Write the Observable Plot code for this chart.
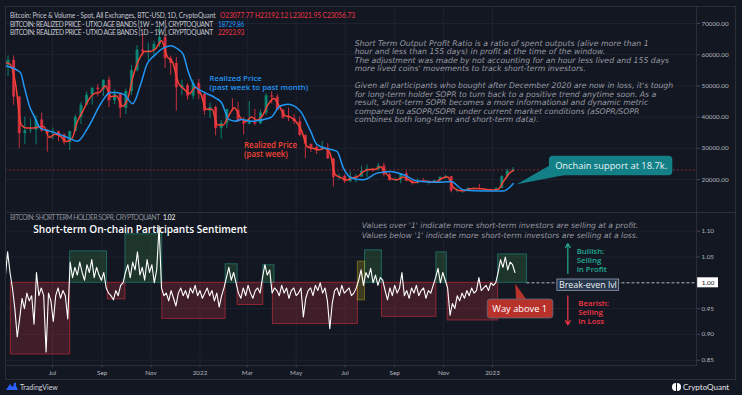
<!DOCTYPE html>
<html><head><meta charset="utf-8">
<script src="https://cdn.jsdelivr.net/npm/d3@7"></script>
<script src="https://cdn.jsdelivr.net/npm/@observablehq/plot@0.6"></script>
<style>
html,body{margin:0;padding:0;background:#131722;}
#root{position:relative;width:742px;height:395px;background:#131722;overflow:hidden;font-family:Lato,"Open Sans",sans-serif;}
#panel{position:absolute;left:5px;top:6px;width:731px;height:374px;border:1px solid #2a2e39;box-sizing:border-box;}
#sep{position:absolute;left:5px;top:212px;width:731px;height:1px;background:#2a2e39;}
.pl{position:absolute;left:0;}
.leg{position:absolute;white-space:nowrap;line-height:1;font-family:Lato,"Open Sans",sans-serif;}
.foot{position:absolute;top:382px;font-size:7px;color:#d1d4dc;white-space:nowrap;display:flex;align-items:center;gap:2px;}
</style></head>
<body>
<div id="root">
  <div id="panel"></div>
  <div class="pl" id="p1" style="top:0"></div>
  <div class="pl" id="p2" style="top:212px"></div>
  <div id="sep"></div>
  <div id="legends"></div>
  <div class="foot" style="left:6px">
    <svg width="12" height="9" viewBox="0 0 12 9"><path d="M0,8 L4,2 L6.5,5 L9,1.5 L12,8 Z" fill="#2962ff"/><circle cx="9" cy="2" r="1.3" fill="#2962ff"/></svg>
    <span>TradingView</span>
  </div>
  <div class="foot" style="left:672px;font-size:8px;color:#e8e9ec">
    <svg width="9" height="8" viewBox="0 0 9 8"><path d="M4,0 A4,4 0 0 0 4,8 Z" fill="#fff"/><path d="M5,0 A4,4 0 0 1 5,8 Z" fill="#fff"/></svg>
    <span>CryptoQuant</span>
  </div>
</div>
<script>
const DAY = 864e5;
// ---- Price candles (weekly, weeks starting Monday from candleWeekStart)
const candleWeekStart = "2021-05-03";
const candleOpen  = [56600,58200,46400,34700,35600,35800,39100,35500,34700,35300,34250,31800,35400,39900,43800,47000,49300,48800,51800,45200,47300,42800,48200,54900,61500,60900,61300,63300,65500,58700,57200,49400,50100,46700,50800,47300,41900,43100,36300,37900,42400,42200,38400,37700,38400,37800,41300,46800,46400,42200,39700,39500,38500,34100,31300,30300,29400,29900,26600,20600,21000,19300,20800,20800,22600,23300,23200,24300,21500,19600,19800,21800,19400,18800,19300,19100,19100,19600,20600,20900,16300,16300,16500,17100,17100,16800,16800,16600,17100,20900,22700];
const candleHigh  = [59500,59600,46600,40000,39400,40500,41300,36000,36500,35500,34700,35400,40600,44700,48100,49300,50500,51900,52900,48800,47500,49000,56500,62900,67000,63700,64300,69000,66300,59500,59100,51900,50700,51900,52100,47500,44400,43500,38900,42500,45800,44700,39800,45000,42500,42300,47500,48200,47200,42400,42900,40800,40000,34300,31300,30600,32200,31500,26800,21700,21500,22400,21600,24200,24600,23600,25200,25200,22000,20500,21800,22700,19700,20300,20400,19500,19700,21000,21400,21000,17200,16800,17400,17400,18400,17000,16900,17400,21200,23300,23800];
const candleLow   = [53000,43800,30000,31200,34800,31100,35200,28800,32700,32100,31000,29300,35200,37600,43600,43900,46400,46600,43000,44000,39600,40800,46900,54500,59600,58100,59400,62300,55600,53300,42000,46800,45500,45600,45700,40600,39600,34000,32900,36300,41700,39600,34300,37500,37200,37600,40500,44200,42100,39200,38600,37600,33700,26700,28700,28000,29300,26500,17600,19700,18700,19000,18900,20800,20700,22400,22700,20800,19500,19500,18600,19300,18200,18500,19000,18200,18900,19200,20100,15700,15800,15500,16000,16700,16600,16400,16400,16500,17100,20400,22300];
const candleClose = [58200,46400,34700,35600,35800,39100,35500,34700,35300,34250,31800,35400,39900,43800,47000,49300,48800,51800,45200,47300,42800,48200,54900,61500,60900,61300,63300,65500,58700,57200,49400,50100,46700,50800,47300,41900,43100,36300,37900,42400,42200,38400,37700,38400,37800,41300,46800,46400,42200,39700,39500,38500,34100,31300,30300,29400,29900,26600,20600,21000,19300,20800,20800,22600,23300,23200,24300,21500,19600,19800,21800,19400,18800,19300,19100,19100,19600,20600,20900,16300,16300,16500,17100,17100,16800,16800,16600,17100,20900,22700,23080];
const lastClose = 23077;
// ---- Realized price 1D~1W (red): first at start, then weekly (Sundays)
const redValues = [57500,57000,50500,37500,36500,36500,36800,37000,33500,34500,33800,32200,33000,38500,42000,45500,47500,48000,50000,46500,46800,43500,46000,53500,58500,61000,61000,62000,64500,59500,57500,51000,49000,47500,49500,47500,42500,42500,37500,37500,40500,43000,40000,38500,40000,39000,40500,44000,46000,43500,40500,40000,38500,35500,30500,30000,29500,30000,28500,21500,20600,19800,20500,21000,22500,23200,23200,24100,22000,20200,19900,20800,20000,19000,19400,19500,19200,19300,20400,20800,17500,16500,16400,17000,17100,17000,16800,16600,16900,19500,22000,22924];
const lastDataDate = "2023-01-27";
// ---- Realized price 1W~1M (blue)
const blueDates = ["2021-05-03","2021-05-22","2021-05-27","2021-06-03","2021-06-07","2021-06-16","2021-06-28","2021-07-19","2021-08-01","2021-08-14","2021-08-31","2021-09-11","2021-09-18","2021-09-28","2021-10-09","2021-10-19","2021-10-27","2021-11-05","2021-11-18","2021-11-26","2021-12-04","2021-12-11","2021-12-17","2021-12-25","2022-01-07","2022-01-20","2022-01-28","2022-02-06","2022-02-14","2022-02-22","2022-03-05","2022-03-30","2022-04-11","2022-04-21","2022-05-06","2022-05-19","2022-05-27","2022-06-13","2022-06-21","2022-06-29","2022-07-10","2022-07-24","2022-08-10","2022-08-27","2022-09-12","2022-09-29","2022-10-24","2022-11-10","2022-11-26","2022-12-21","2023-01-15","2023-01-27"];
const blueValues = [56450,54300,49450,43000,40870,36500,35500,33550,32250,36500,44600,47850,47850,47300,44300,50550,57000,59700,62350,62900,61850,60200,54850,50000,47850,46200,44600,39250,38700,39250,38700,39800,43550,44100,41950,35500,31200,29600,29000,23650,20400,19900,22050,22600,21500,19550,19100,19350,16650,16350,16350,18730];
// ---- Short-term holder SOPR (every 3 days from soprStart)
const soprStart = "2021-05-03";
const soprValues = [
1.01,1.06,1.02,0.99,0.95, 0.895,0.93,0.97,0.95, 0.98,0.965,0.975, 0.92, 1.02,0.975,0.99, 0.975,0.866,0.98, 0.965,0.925,0.975,
0.99,0.97,0.985,0.975, 0.93, 1.04,
1.01,1.03,1.015,1.04,1.02,1.005,1.035,1.02,1.045,1.01,1.03,1.015,1.005,1.02,
0.99,0.98,0.975,0.967,0.985,0.975,0.995,1.0,
1.02,1.035,1.01,1.04,1.025,1.06,1.015,1.03,1.005,1.045,1.02,1.035,1.0,1.025,
1.11,
0.99,0.975,0.98,0.965,0.985,0.97,0.955,0.98,0.99,0.975,0.985,0.97,0.99,0.98,0.995,0.975,0.985,0.97,0.98,0.99,0.975,0.985,0.965,0.98,0.953,0.975,0.99,
1.01,1.03,1.005,1.02,1.0,
0.98,0.97,0.99,0.975,0.995,0.98,0.97,0.985,0.99,0.98,
1.01,1.035,1.015,1.025,
0.98,0.99,0.985,0.975,0.995,0.98,0.99,0.97,0.985,0.99,0.975,0.98,0.99,
0.934,
0.97,0.985,0.99,0.975,0.995,0.985,1.0,0.98,0.99,0.965,
0.911,
0.96,0.985,0.99,0.975,0.995,0.98,0.985,0.99,0.975,0.98,0.99,
1.005,1.025,0.995,1.02,
1.01,1.028,1.0,1.015,0.995,1.01,1.005,
0.985,0.967,0.99,0.975,0.995,0.98,0.99,1.02,0.975,0.985,0.97,0.99,0.98,0.995,0.975,0.985,0.99,0.97,0.985,0.98,0.995,
1.01,1.028,1.0,1.02,1.005,
0.99,0.937,0.96,0.95,0.975,0.965,0.98,0.97,0.985,0.975,0.99,0.98,0.985,1.01,0.985,0.99,0.995,0.985,1.0,0.995,1.0,
1.02,1.045,1.03,1.05,1.025,1.04,1.035,1.02];
// ---- Shaded sentiment zones
const lossStart = ["2021-05-10","2021-09-08","2021-11-15","2022-02-17","2022-04-02","2022-08-16","2022-11-06"];
const lossEnd   = ["2021-07-23","2021-09-30","2022-02-02","2022-03-21","2022-07-17","2022-10-23","2023-01-08"];
const lossLow   = [0.861,0.968,0.93,0.957,0.92,0.934,0.927];
const profitStart = ["2021-07-23","2021-09-30","2022-02-02","2022-03-21","2022-07-26","2022-10-23","2023-01-08"];
const profitEnd   = ["2021-09-07","2021-11-15","2022-02-17","2022-04-04","2022-08-16","2022-11-05","2023-02-13"];
const profitHigh  = [1.061,1.094,1.036,1.034,1.063,1.059,1.055];
const neutralStart = ["2022-07-17"], neutralEnd = ["2022-07-26"], neutralLow = [0.966], neutralHigh = [1.041];
// ---- Axis ticks
const priceTicks = [20000,30000,40000,50000,60000,70000];
const soprTicks = [0.85,0.90,0.95,1.05,1.10];
const monthTicks = ["2021-07-01","2021-09-01","2021-11-01","2022-01-01","2022-03-01","2022-05-01","2022-07-01","2022-09-01","2022-11-01","2023-01-01"];

// ---- text fitting helpers
const ctx = document.createElement("canvas").getContext("2d");
const measure = (text, style, weight, size, family) => { ctx.font = `${style} ${weight} ${size}px ${family}`; return ctx.measureText(text).width; };
const fit = (text, style, weight, family, target) => 100*target/measure(text, style, weight, 100, family);
// multi-line text: font size and line height (em) that keep lines from colliding
const ml = (size, spacing) => { const s = size*0.95; return {fontSize:s, lineHeight:Math.max(spacing, 1.15*s)/s}; };
const OS = "'Open Sans', sans-serif", LT = "Lato, 'Open Sans', sans-serif", DJ = "'DejaVu Sans', sans-serif";

// ---- HTML legends (fixed size, letter-spacing fitted to the reference widths)
const legendItems = [
  {t:"Bitcoin: Price & Volume - Spot, All Exchanges, BTC-USD, 1D, CryptoQuant", x:10, y:11.5, w:206, c:"#c3c6ce"},
  {t:"O23077.77 H23192.12 L23021.95 C23056.73", x:220, y:11.5, w:135, c:"#f23645"},
  {t:"BITCOIN: REALIZED PRICE - UTXO AGE BANDS [1W ~ 1M], CRYPTOQUANT", x:10, y:20.5, w:203, c:"#c3c6ce"},
  {t:"18729.86", x:218, y:20.5, w:26, c:"#2196f3"},
  {t:"BITCOIN: REALIZED PRICE - UTXO AGE BANDS [1D ~ 1W], CRYPTOQUANT", x:10, y:29, w:203, c:"#c3c6ce"},
  {t:"22923.93", x:218, y:29, w:26, c:"#f23645"},
  {t:"BITCOIN: SHORT TERM HOLDER SOPR, CRYPTOQUANT", x:10, y:213.8, w:150, c:"#8d909a"},
  {t:"1.02", x:163, y:213.8, w:12, c:"#ffffff"}
];
const LEG_FS = 6.6;
const legRoot = document.getElementById("legends");
for (const it of legendItems) {
  const el = document.createElement("div");
  el.className = "leg"; el.textContent = it.t;
  const ls = (it.w - measure(it.t, "normal", 400, LEG_FS, LT)) / it.t.length;
  el.style.cssText = `left:${it.x}px;top:${it.y}px;font-size:${LEG_FS}px;letter-spacing:${ls.toFixed(3)}px;color:${it.c}`;
  legRoot.append(el);
}

const D = s => new Date(s + "T00:00:00Z");
const t0 = +D(candleWeekStart);
const candles = candleOpen.map((o,i)=>({date:new Date(t0+(7*i+3.5)*DAY), open:o, high:candleHigh[i], low:candleLow[i], close:candleClose[i]}));
const upC = candles.filter(c=>c.close>=c.open), dnC = candles.filter(c=>c.close<c.open);
const red = redValues.map((v,i)=>({date: i===0 ? new Date(t0) : new Date(Math.min(t0+(7*(i-1)+6)*DAY, +D(lastDataDate))), value:v}));
const blue = blueDates.map((s,i)=>({date:D(s), value:blueValues[i]}));
const s0 = +D(soprStart);
const sopr = soprValues.map((v,i)=>({date:new Date(s0+3*i*DAY), value:v}));
const loss = lossStart.map((s,i)=>({a:D(s), b:D(lossEnd[i]), lo:lossLow[i], hi:1}));
const prof = profitStart.map((s,i)=>({a:D(s), b:D(profitEnd[i]), lo:1, hi:profitHigh[i]}));
const neut = neutralStart.map((s,i)=>({a:D(s), b:D(neutralEnd[i]), lo:neutralLow[i], hi:neutralHigh[i]}));
const mTicks = monthTicks.map(D);
const fmtM = d => d.getUTCMonth()===0 ? String(d.getUTCFullYear()) : d3.utcFormat("%b")(d);

const X = {type:"utc", domain:[D("2021-07-01"), D("2023-01-01")], range:[52,492], axis:null};
const GRID = "#1e2230";
const AX = "#b2b5be";
const baseStyle = {background:"transparent", color:AX, fontFamily:LT, fontSize:"6.3px", overflow:"visible"};

const noteA = "Short Term Output Profit Ratio is a ratio of spent outputs (alive more than 1\nhour and less than 155 days) in profit at the time of the window.\nThe adjustment was made by not accounting for an hour less lived and 155 days\nmore lived coins' movements to track short-term investors.";
const noteB = "Given all participants who bought after December 2020 are now in loss, it's tough\nfor long-term holder SOPR to turn back to a positive trend anytime soon. As a\nresult, short-term SOPR becomes a more informational and dynamic metric\ncompared to aSOPR/SOPR under current market conditions (aSOPR/SOPR\ncombines both long-term and short-term data).";
const valuesNote = "Values over '1' indicate more short-term investors are selling at a profit.\nValues below '1' indicate more short-term investors are selling at a loss.";
const titleText = "Short-term On-chain Participants Sentiment";

const noteSize = fit(noteA.split("\n")[0], "italic", 400, DJ, 294);
const valSize = fit(valuesNote.split("\n")[0], "italic", 400, DJ, 277);
const titleSize = fit(titleText, "normal", 600, OS, 214);
const rpb = ml(fit("(past week to past month)", "normal", 600, OS, 104), 9);
const rpr = ml(fit("Realized Price", "normal", 600, OS, 56), 8.7);
const onSize = fit("Onchain support at 18.7k.", "normal", 400, OS, 112);
const waySize = fit("Way above 1", "normal", 400, OS, 55);
const beSize = fit("Break-even lvl", "normal", 400, OS, 58);
const bull = ml(fit("Selling", "normal", 600, OS, 26), 8.85);
const bear = ml(fit("Selling", "normal", 600, OS, 26), 8.7);

const p1 = Plot.plot({
  width:742, height:212, marginLeft:5, marginRight:46, marginTop:6, marginBottom:0,
  x:X, y:{domain:[20000,70000], range:[179,23], axis:null},
  style:baseStyle,
  marks:[
    Plot.gridX(mTicks, {stroke:GRID, strokeOpacity:1}),
    Plot.gridY(priceTicks, {stroke:GRID, strokeOpacity:1}),
    Plot.ruleY([lastClose], {stroke:"#f23645", strokeOpacity:0.5, strokeDasharray:"2,2"}),
    Plot.ruleX(upC, {x:"date", y1:"low", y2:"high", stroke:"#089981", strokeWidth:1, strokeOpacity:0.8, clip:true}),
    Plot.ruleX(dnC, {x:"date", y1:"low", y2:"high", stroke:"#f23645", strokeWidth:1, strokeOpacity:0.8, clip:true}),
    Plot.ruleX(upC, {x:"date", y1:"open", y2:"close", stroke:"#089981", strokeWidth:3, strokeOpacity:0.75, clip:true}),
    Plot.ruleX(dnC, {x:"date", y1:"open", y2:"close", stroke:"#f23645", strokeWidth:3, strokeOpacity:0.75, clip:true}),
    Plot.line(red, {x:"date", y:"value", stroke:"#f44336", strokeWidth:1.5, curve:"monotone-x", clip:true}),
    Plot.line(blue, {x:"date", y:"value", stroke:"#2196f3", strokeWidth:1.5, curve:"monotone-x", clip:true}),
    Plot.frame({stroke:"#2a2e39"}),
    Plot.axisY({anchor:"right", ticks:priceTicks, tickFormat:d=>d.toFixed(2), tickSize:3, tickPadding:2, stroke:"#434651"}),
    Plot.text([noteA], {x:()=>D("2022-07-13"), y:()=>59680, text:d=>d, textAnchor:"start", lineAnchor:"middle", lineHeight:8.5/noteSize, fontSize:noteSize, fontStyle:"italic", fontFamily:DJ, fill:"#9598a1"}),
    Plot.text([noteB], {x:()=>D("2022-07-13"), y:()=>44680, text:d=>d, textAnchor:"start", lineAnchor:"middle", lineHeight:8.5/noteSize, fontSize:noteSize, fontStyle:"italic", fontFamily:DJ, fill:"#9598a1"}),
    Plot.text(["Realized Price\n(past week to past month)"], {x:()=>D("2022-01-13"), y:()=>51130, text:d=>d, textAnchor:"start", lineAnchor:"middle", ...rpb, fontWeight:600, fontFamily:OS, fill:"#2196f3"}),
    Plot.text(["Realized Price\n(past week)"], {x:()=>D("2022-02-25"), y:()=>29630, text:d=>d, textAnchor:"start", lineAnchor:"middle", ...rpr, fontWeight:600, fontFamily:OS, fill:"#f44336"}),
    Plot.area([{x1:D("2023-02-01"), y1:18290, x2:D("2023-02-01"), y2:18290},{x1:D("2023-03-17"), y1:24840, x2:D("2023-04-02"), y2:21290}], {x1:"x1", y1:"y1", x2:"x2", y2:"y2", fill:"#137f87"}),
    Plot.rect([{a:D("2023-03-13"), b:D("2023-08-14"), lo:21190, hi:27420}], {x1:"a", x2:"b", y1:"lo", y2:"hi", fill:"#137f87", rx:4}),
    Plot.text(["Onchain support at 18.7k."], {x:()=>D("2023-05-29"), y:()=>24290, text:d=>d, fontSize:onSize, fontFamily:OS, fill:"#e8f4f4"})
  ]
});
document.getElementById("p1").append(p1);

const p2 = Plot.plot({
  width:742, height:168, marginLeft:5, marginRight:46, marginTop:0, marginBottom:15,
  x:X, y:{domain:[0.85,1.10], range:[147.7,18.7], axis:null},
  style:baseStyle,
  marks:[
    Plot.gridX(mTicks, {stroke:GRID, strokeOpacity:1}),
    Plot.gridY(soprTicks, {stroke:GRID, strokeOpacity:1}),
    Plot.ruleY([1], {x1:()=>D("2023-02-13"), x2:()=>D("2023-09-14"), stroke:"#d1d4dc", strokeDasharray:"3,2", strokeOpacity:0.85}),
    Plot.rect(loss, {x1:"a", x2:"b", y1:"lo", y2:"hi", fill:"#f23645", fillOpacity:0.2, stroke:"#f23645", strokeOpacity:0.5}),
    Plot.rect(prof, {x1:"a", x2:"b", y1:"lo", y2:"hi", fill:"#4caf50", fillOpacity:0.2, stroke:"#26a69a", strokeOpacity:0.5}),
    Plot.rect(neut, {x1:"a", x2:"b", y1:"lo", y2:"hi", fill:"#d4c21a", fillOpacity:0.22, stroke:"#d4c21a", strokeOpacity:0.4}),
    Plot.line(sopr, {x:"date", y:"value", stroke:"#ffffff", strokeWidth:1.1, clip:true}),
    Plot.frame({stroke:"#2a2e39"}),
    Plot.axisY({anchor:"right", ticks:soprTicks, tickFormat:d=>d.toFixed(2), tickSize:3, tickPadding:2, stroke:"#434651"}),
    Plot.axisX({anchor:"bottom", ticks:mTicks, tickFormat:fmtM, tickSize:2, tickPadding:3, stroke:"#434651"}),
    Plot.rect([{a:D("2023-09-14"), b:D("2023-10-10"), lo:0.9903, hi:1.0097}], {x1:"a", x2:"b", y1:"lo", y2:"hi", fill:"#ffffff"}),
    Plot.text(["1.00"], {x:()=>D("2023-09-27"), y:()=>1.0, text:d=>d, fontSize:6.3, fontFamily:LT, fill:"#131722"}),
    Plot.text([titleText], {x:()=>D("2021-06-07"), y:()=>1.1035, text:d=>d, textAnchor:"start", fontSize:titleSize, fontWeight:600, fontFamily:OS, fill:"#ffffff"}),
    Plot.text([valuesNote], {x:()=>D("2022-07-22"), y:()=>1.1027, text:d=>d, textAnchor:"start", lineAnchor:"middle", lineHeight:9.4/valSize, fontSize:valSize, fontStyle:"italic", fontFamily:DJ, fill:"#9598a1"}),
    Plot.arrow([{x:D("2023-04-05"), a:1.018, b:1.0762}], {x1:"x", x2:"x", y1:"a", y2:"b", stroke:"#22ab94", strokeWidth:1.2, headLength:6}),
    Plot.arrow([{x:D("2023-04-05"), a:0.9748, b:0.9186}], {x1:"x", x2:"x", y1:"a", y2:"b", stroke:"#f23645", strokeWidth:1.2, headLength:6}),
    Plot.text(["Bullish:\nSelling\nin Profit"], {x:()=>D("2023-04-16"), y:()=>1.0442, text:d=>d, textAnchor:"start", lineAnchor:"middle", ...bull, fontWeight:600, fontFamily:OS, fill:"#22ab94"}),
    Plot.text(["Bearish:\nSelling\nin Loss"], {x:()=>D("2023-04-18"), y:()=>0.9432, text:d=>d, textAnchor:"start", lineAnchor:"middle", ...bear, fontWeight:600, fontFamily:OS, fill:"#f23645"}),
    Plot.rect([{a:D("2023-03-23"), b:D("2023-06-08"), lo:0.9845, hi:1.0064}], {x1:"a", x2:"b", y1:"lo", y2:"hi", fill:"#26364b", stroke:"#9aa4b5", strokeWidth:0.8}),
    Plot.text(["Break-even lvl"], {x:()=>D("2023-04-30"), y:()=>0.9955, text:d=>d, fontSize:beSize, fontFamily:OS, fill:"#eef0f4"}),
    Plot.area([{x1:D("2023-01-30"), x2:D("2023-01-30"), y1:0.9971}, {x1:D("2023-01-31"), x2:D("2023-02-13"), y1:0.9665}], {x1:"x1", x2:"x2", y1:"y1", fill:"#b8322c"}),
    Plot.rect([{a:D("2022-12-26"), b:D("2023-03-18"), lo:0.9308, hi:0.9676}], {x1:"a", x2:"b", y1:"lo", y2:"hi", fill:"#b8322c", stroke:"#5d6b7a", strokeWidth:0.8, rx:3}),
    Plot.text(["Way above 1"], {x:()=>D("2023-02-04"), y:()=>0.9492, text:d=>d, fontSize:waySize, fontFamily:OS, fill:"#ffffff"})
  ]
});
document.getElementById("p2").append(p2);
</script>
</body></html>
